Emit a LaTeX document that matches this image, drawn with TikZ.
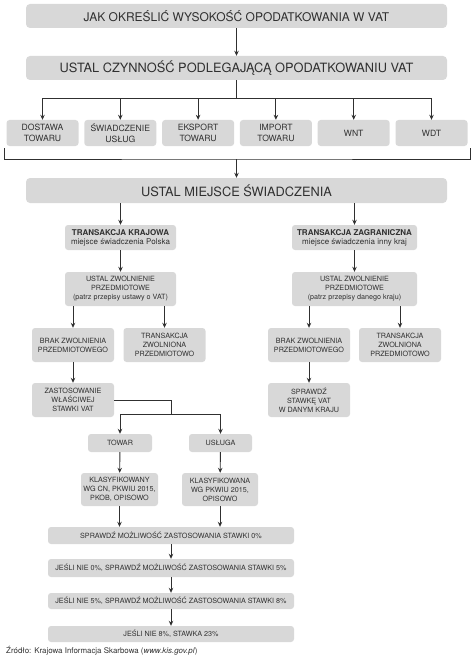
\documentclass[tikz,border=0pt]{standalone}
\usepackage{fontspec}
\setmainfont{TeX Gyre Heros}
\usepackage{xcolor}
\usepackage{tikz}
\usetikzlibrary{arrows.meta}
\definecolor{boxgray}{HTML}{D8D8D8}
\definecolor{inkgray}{HTML}{303030}
\tikzstyle{bar} = [rectangle, rounded corners=4pt, fill=boxgray, text=inkgray, minimum width=421pt, minimum height=24pt, inner sep=0pt]
\tikzstyle{kind} = [rectangle, rounded corners=3pt, fill=boxgray, text=inkgray, minimum width=72pt, minimum height=26pt, inner sep=0pt, align=center, font=\fontsize{8.6}{10.3}\selectfont]
\tikzstyle{place} = [rectangle, rounded corners=3pt, fill=boxgray, text=inkgray, minimum height=25pt, inner sep=0pt, align=center, font=\fontsize{8}{9}\selectfont]
\tikzstyle{small} = [rectangle, rounded corners=3pt, fill=boxgray, text=inkgray, minimum width=82pt, minimum height=34pt, inner sep=0pt, align=center, font=\fontsize{7.2}{9}\selectfont]
\tikzstyle{rate} = [rectangle, rounded corners=3pt, fill=boxgray, text=inkgray, minimum width=246pt, minimum height=17pt, inner sep=0pt, font=\fontsize{7.2}{9}\selectfont]
\tikzstyle{line} = [line width=0.9pt, draw=inkgray]
\tikzstyle{arrow} = [line width=0.9pt, draw=inkgray, -{Stealth[length=5pt,width=4.5pt]}]

\begin{document}
\begin{tikzpicture}[x=1pt,y=-1pt]
	\useasboundingbox (0,0) rectangle (474,658);

	\node (title) [bar, font=\fontsize{12}{14}\selectfont] at (236.5,16) {JAK OKREŚLIĆ WYSOKOŚĆ OPODATKOWANIA W VAT};
	\node (czyn) [bar, font=\fontsize{12.8}{15}\selectfont] at (236.5,68) {USTAL CZYNNOŚĆ PODLEGAJĄCĄ OPODATKOWANIU VAT};

	\node (d1) [kind] at (42.5,133) {DOSTAWA\\TOWARU};
	\node (d2) [kind] at (120.3,133) {ŚWIADCZENIE\\USŁUG};
	\node (d3) [kind] at (198.1,133) {EKSPORT\\TOWARU};
	\node (d4) [kind] at (275.9,133) {IMPORT\\TOWARU};
	\node (d5) [kind] at (353.7,133) {WNT};
	\node (d6) [kind] at (431.5,133) {WDT};

	\node (miejsce) [bar, minimum height=25pt, font=\fontsize{12.8}{15}\selectfont] at (236.5,190.5) {USTAL MIEJSCE ŚWIADCZENIA};

	\node (kraj) [place, minimum width=111pt] at (120.5,237.5) {\textbf{TRANSAKCJA KRAJOWA}\\miejsce świadczenia Polska};
	\node (zagr) [place, minimum width=125pt] at (354.5,237.5) {\textbf{TRANSAKCJA ZAGRANICZNA}\\miejsce świadczenia inny kraj};

	\node (zwolKraj) [small, minimum width=111pt] at (120.5,289) {USTAL ZWOLNIENIE\\PRZEDMIOTOWE\\(patrz przepisy ustawy o VAT)};
	\node (zwolZagr) [small, minimum width=125pt] at (354.5,289) {USTAL ZWOLNIENIE\\PRZEDMIOTOWE\\(patrz przepisy danego kraju)};

	\node (brakKraj) [small] at (73,345) {BRAK ZWOLNIENIA\\PRZEDMIOTOWEGO};
	\node (wolnKraj) [small] at (164.5,345) {TRANSAKCJA\\ZWOLNIONA\\PRZEDMIOTOWO};
	\node (brakZagr) [small] at (309,345) {BRAK ZWOLNIENIA\\PRZEDMIOTOWEGO};
	\node (wolnZagr) [small] at (400,345) {TRANSAKCJA\\ZWOLNIONA\\PRZEDMIOTOWO};

	\node (stawka) [small] at (73,400) {ZASTOSOWANIE\\WŁAŚCIWEJ\\STAWKI VAT};
	\node (sprawdz) [small] at (309,400) {SPRAWDŹ\\STAWKĘ VAT\\W DANYM KRAJU};

	\node (towar) [small, minimum width=64pt, minimum height=18pt] at (120,443) {TOWAR};
	\node (usluga) [small, minimum width=63pt, minimum height=18pt] at (220.5,443) {USŁUGA};

	\node (klasTowar) [small, minimum width=77pt, minimum height=33pt] at (119.5,489.5) {KLASYFIKOWANY\\WG CN, PKWIU 2015,\\PKOB, OPISOWO};
	\node (klasUsluga) [small, minimum width=76pt, minimum height=33pt] at (220,489.5) {KLASYFIKOWANA\\WG PKWIU 2015,\\OPISOWO};

	\node (r0) [rate] at (171,535.5) {SPRAWDŹ MOŻLIWOŚĆ ZASTOSOWANIA STAWKI 0\%};
	\node (r5) [rate, minimum height=18pt] at (171,568) {JEŚLI NIE 0\%, SPRAWDŹ MOŻLIWOŚĆ ZASTOSOWANIA STAWKI 5\%};
	\node (r8) [rate, minimum height=16pt] at (171,601) {JEŚLI NIE 5\%, SPRAWDŹ MOŻLIWOŚĆ ZASTOSOWANIA STAWKI 8\%};
	\node (r23) [rate, minimum height=16pt] at (171,634) {JEŚLI NIE 8\%, STAWKA 23\%};

	\node (zrodlo) [anchor=west, inner sep=0pt, text=inkgray, font=\fontsize{7.9}{9}\selectfont] at (6,651) {Źródło: Krajowa Informacja Skarbowa (\textit{www.kis.gov.pl})};

	\coordinate (fan) at (236.5,98);
	\coordinate (brL) at (4,148);
	\coordinate (brM) at (236.5,159);
	\coordinate (brR) at (470,148);
	\coordinate (fork) at (171,414);

	\draw [arrow] (title) -- (czyn);
	\draw [line] (czyn) -- (fan);
	\foreach \n in {d1,d2,d3,d4,d5,d6}
		\draw [arrow] (fan) -| (\n);
	\draw [line] (brL) |- (brM) -| (brR);
	\draw [arrow] (brM) -- (miejsce);

	\draw [arrow] (miejsce.south -| kraj) -- (kraj);
	\draw [arrow] (miejsce.south -| zagr) -- (zagr);
	\draw [arrow] (kraj) -- (zwolKraj);
	\draw [arrow] (zagr) -- (zwolZagr);
	\draw [arrow] (zwolKraj.south -| brakKraj) -- (brakKraj);
	\draw [arrow] (zwolKraj.south -| wolnKraj) -- (wolnKraj);
	\draw [arrow] (zwolZagr.south -| brakZagr) -- (brakZagr);
	\draw [arrow] (zwolZagr.south -| wolnZagr) -- (wolnZagr);
	\draw [arrow] (brakKraj) -- (stawka);
	\draw [arrow] (brakZagr) -- (sprawdz);

	\draw [line] (stawka.east) -| (fork);
	\draw [arrow] (fork) -| (towar);
	\draw [arrow] (fork) -| (usluga);
	\draw [arrow] (towar) -- (klasTowar);
	\draw [arrow] (usluga) -- (klasUsluga);
	\draw [arrow] (klasTowar) -- (klasTowar |- r0.north);
	\draw [arrow] (klasUsluga) -- (klasUsluga |- r0.north);
	\draw [arrow] (r0) -- (r5);
	\draw [arrow] (r5) -- (r8);
	\draw [arrow] (r8) -- (r23);

\end{tikzpicture}
\end{document}
